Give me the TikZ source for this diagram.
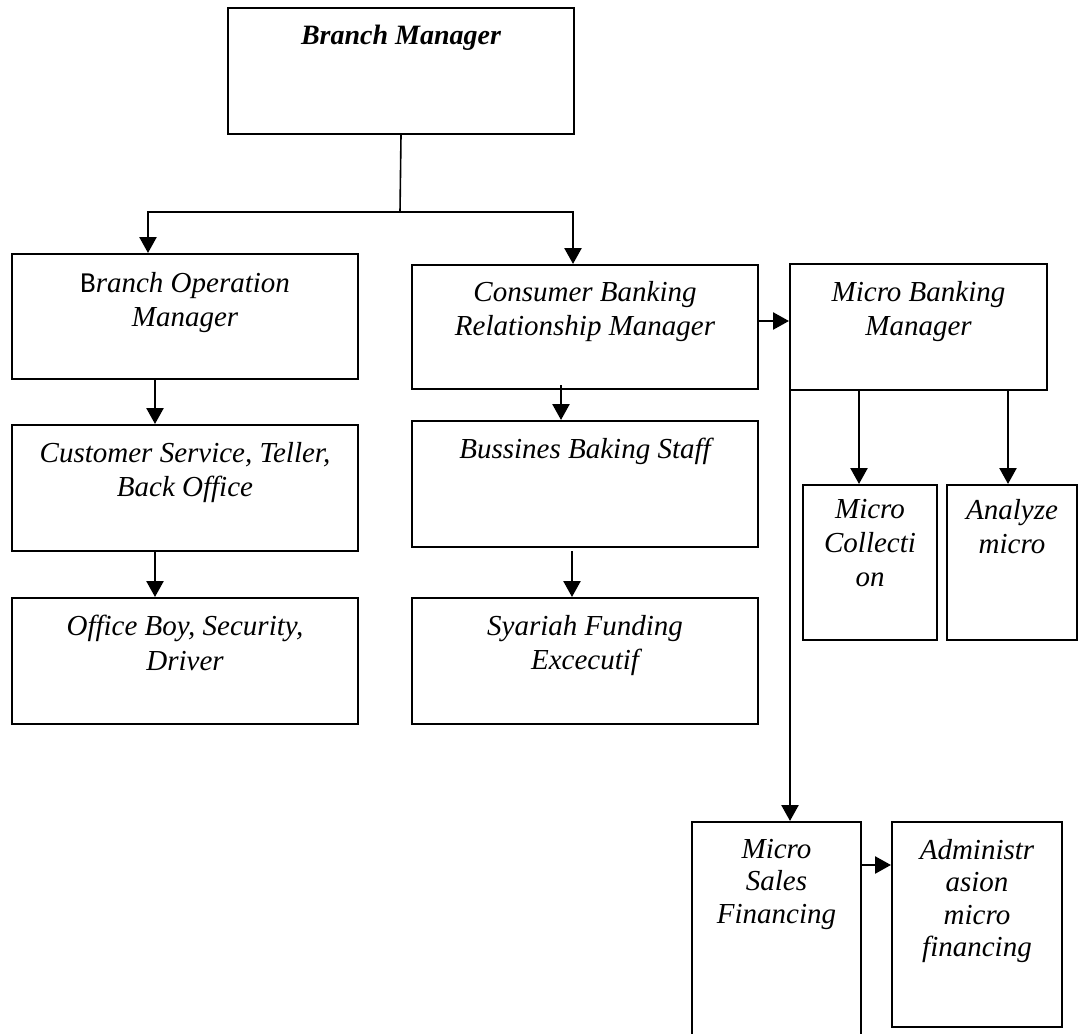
\documentclass[tikz,border=0pt]{standalone}
\usepackage{fontspec}
\setmainfont{Liberation Serif}
\newfontfamily\calib{Carlito}
\usetikzlibrary{arrows.meta,calc}
\begin{document}
\begin{tikzpicture}[x=1pt,y=-1pt,
  box/.style={draw, line width=2pt, inner sep=0pt},
  txt/.style={inner sep=0pt, align=center, anchor=north, font=\fontsize{29}{34.5}\selectfont\itshape},
  conn/.style={line width=2.5pt},
  arr/.style={line width=2.5pt, -{Triangle[width=17pt,length=16pt]}}]
\useasboundingbox (0,0) rectangle (1078,1033);

% boxes
\node[box, minimum width=346pt, minimum height=126pt] (bm)   at (401,71) {};
\node[box, minimum width=346pt, minimum height=125pt] (bom)  at (185,316.5) {};
\node[box, minimum width=346pt, minimum height=124pt] (cbrm) at (585,327) {};
\node[box, minimum width=257pt, minimum height=126pt] (mbm)  at (918.5,327) {};
\node[box, minimum width=346pt, minimum height=126pt] (cs)   at (185,488) {};
\node[box, minimum width=346pt, minimum height=126pt] (ob)   at (185,661) {};
\node[box, minimum width=346pt, minimum height=126pt] (bbs)  at (585,484) {};
\node[box, minimum width=346pt, minimum height=126pt] (sfe)  at (585,661) {};
\node[box, minimum width=134pt, minimum height=155pt] (mc)   at (870,562.5) {};
\node[box, minimum width=130pt, minimum height=155pt] (am)   at (1012,562.5) {};
\node[box, minimum width=169pt, minimum height=213pt] (msf)  at (776.5,928.5) {};
\node[box, minimum width=170pt, minimum height=205pt] (adm)  at (977,924.5) {};

% texts
\node[txt, font=\fontsize{28}{34}\selectfont\bfseries\itshape] (bmT) at ([yshift=-18pt]bm.north) {Branch Manager};
\node[txt] (bomT)  at ([yshift=-19pt]bom.north)  {{\upshape\calib B}ranch Operation\\Manager};
\node[txt] (cbrmT) at ([yshift=-17pt]cbrm.north) {Consumer Banking\\Relationship Manager};
\node[txt] (mbmT)  at ([yshift=-18pt]mbm.north)  {Micro Banking\\Manager};
\node[txt] (csT)   at ([yshift=-18pt]cs.north)   {Customer Service, Teller,\\Back Office};
\node[txt] (obT)   at ([yshift=-18pt]ob.north)   {Office Boy, Security,\\Driver};
\node[txt] (bbsT)  at ([yshift=-18pt]bbs.north)  {Bussines Baking Staff};
\node[txt] (sfeT)  at ([yshift=-18pt]sfe.north)  {Syariah Funding\\Excecutif};
\node[txt, font=\fontsize{29}{34}\selectfont\itshape] (mcT) at ([yshift=-15pt]mc.north) {Micro\\Collecti\\on};
\node[txt, font=\fontsize{29}{34}\selectfont\itshape] (amT) at ([yshift=-15pt]am.north) {Analyze\\micro};
\node[txt, font=\fontsize{29}{32.5}\selectfont\itshape] (msfT) at ([yshift=-18pt]msf.north) {Micro\\Sales\\Financing};
\node[txt, font=\fontsize{29}{32.5}\selectfont\itshape] (admT) at ([yshift=-18pt]adm.north) {Administr\\asion\\micro\\financing};

% connectors
\coordinate (j)  at (400,212);
\coordinate (jl) at (148,212);
\coordinate (jr) at (573,212);
\draw[line width=1.6pt] (bm.south) -- (j);
\draw[arr] (j) -| (jl |- bom.north);
\draw[arr] (j) -| (jr |- cbrm.north);

\draw[arr] ([xshift=-30pt]bom.south) -- ([xshift=-30pt]cs.north);
\draw[arr] ([xshift=-30pt]cs.south) -- ([xshift=-30pt]ob.north);
\draw[arr] ([xshift=-24pt,yshift=5pt]cbrm.south) -- ([xshift=-24pt]bbs.north);
\draw[arr] ([xshift=-13pt,yshift=-3pt]bbs.south) -- ([xshift=-13pt]sfe.north);
\coordinate (cm) at ($(cbrm.east)+(0,-6)$);
\draw[arr] (cm) -- (cm -| mbm.west);

\coordinate (mca) at ($(mc.north)+(-11,0)$);
\coordinate (ama) at ($(am.north)+(-4,0)$);
\draw[arr] (mca |- mbm.south) -- (mca);
\draw[arr] (ama |- mbm.south) -- (ama);
\coordinate (ms) at ($(mbm.south west)+(1,0)$);
\draw[arr] (ms) -- (ms |- msf.north);
\coordinate (ma) at ($(msf.north east)+(0,44)$);
\draw[arr] (ma) -- (ma -| adm.west);
\end{tikzpicture}
\end{document}
